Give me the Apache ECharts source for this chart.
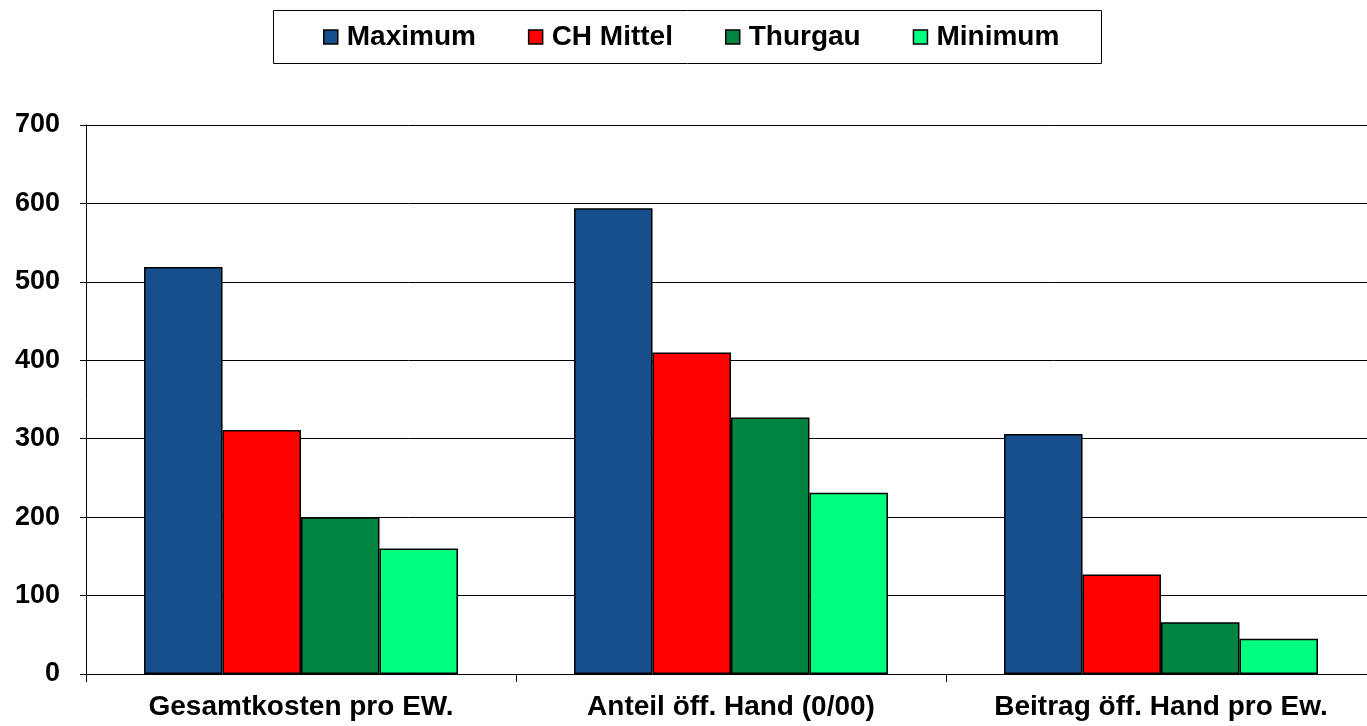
<!DOCTYPE html>
<html>
<head>
<meta charset="utf-8">
<script src="https://cdn.jsdelivr.net/npm/echarts@6/dist/echarts.min.js"></script>
<style>html,body{margin:0;padding:0;background:#fff;overflow:hidden;}#c{width:1376px;height:726px;}</style>
</head>
<body>
<div id="c"></div>
<script>
const categories = ['Gesamtkosten pro EW.', 'Anteil öff. Hand (0/00)', 'Beitrag öff. Hand pro Ew.'];
const seriesNames = ['Maximum', 'CH Mittel', 'Thurgau', 'Minimum'];
const maximum = [519, 594, 306];
const chMittel = [311, 410, 127];
const thurgau = [200, 327, 66];
const minimum = [160, 231, 45];
const yTicks = [0, 100, 200, 300, 400, 500, 600, 700];

const colors = ['#174F8C', '#FF0000', '#008540', '#00FF7F'];
const values = [maximum, chMittel, thurgau, minimum];
const font = '"Liberation Sans", Arial, sans-serif';

const chart = echarts.init(document.getElementById('c'), null, {renderer: 'canvas'});
chart.setOption({
  animation: false,
  backgroundColor: '#fff',
  graphic: [{
    type: 'rect', left: 273, top: 10, z: 0,
    shape: {width: 828, height: 53},
    style: {fill: '#fff', stroke: '#000', lineWidth: 1}
  }],
  legend: {
    left: 318, top: 23, padding: [0, 5, 0, 5],
    itemWidth: 14, itemHeight: 14, itemGap: 52,
    icon: 'rect',
    textStyle: {fontFamily: font, fontWeight: 'bold', fontSize: 28, color: '#000', padding: [0, 0, 0, 4]},
    itemStyle: {borderColor: '#000', borderWidth: 1.5},
    data: seriesNames, z: 5
  },
  grid: {left: 86, right: 0, top: 125, bottom: 52, containLabel: false},
  xAxis: {
    type: 'category', data: categories,
    axisLine: {lineStyle: {color: '#000', width: 1}},
    axisTick: {show: true, length: 8, lineStyle: {color: '#000'}},
    axisLabel: {fontFamily: font, fontWeight: 'bold', fontSize: 28, color: '#000', margin: 19, interval: 0}
  },
  yAxis: {
    type: 'value', min: yTicks[0], max: yTicks[yTicks.length - 1], interval: 100,
    axisLine: {show: true, lineStyle: {color: '#000', width: 1}},
    axisTick: {show: true, length: 6, lineStyle: {color: '#000'}},
    axisLabel: {fontFamily: font, fontWeight: 'bold', fontSize: 27, color: '#000', margin: 26},
    splitLine: {lineStyle: {color: '#000', width: 1}}
  },
  series: seriesNames.map((n, i) => ({
    name: n, type: 'bar', data: values[i],
    barGap: '0%', barCategoryGap: '27%',
    itemStyle: {color: colors[i], borderColor: '#000', borderWidth: 1.5}
  }))
});
</script>
</body>
</html>
